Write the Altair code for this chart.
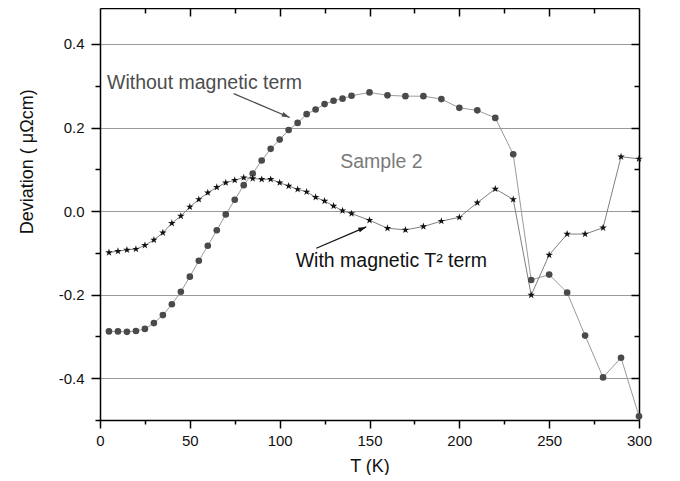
import altair as alt
import pandas as pd

# ---------------- data ----------------
T_circ = [5, 10, 15, 20, 25, 30, 35, 40, 45, 50, 55, 60, 65, 70, 75, 80, 85, 90, 95,
          100, 105, 110, 115, 120, 125, 130, 135, 140, 150, 160, 170, 180, 190, 200,
          210, 220, 230, 240, 250, 260, 270, 280, 290, 300]
dev_circ = [-0.288, -0.288, -0.289, -0.287, -0.282, -0.268, -0.249, -0.223, -0.193,
            -0.157, -0.119, -0.083, -0.046, -0.008, 0.027, 0.062, 0.090, 0.121, 0.149,
            0.171, 0.194, 0.211, 0.232, 0.243, 0.256, 0.264, 0.269, 0.276, 0.284,
            0.277, 0.275, 0.275, 0.268, 0.247, 0.241, 0.223, 0.136, -0.165, -0.152,
            -0.195, -0.298, -0.398, -0.351, -0.491]

T_star = [5, 10, 15, 20, 25, 30, 35, 40, 45, 50, 55, 60, 65, 70, 75, 80, 85, 90, 95,
          100, 105, 110, 115, 120, 125, 130, 135, 140, 150, 160, 170, 180, 190, 200,
          210, 220, 230, 240, 250, 260, 270, 280, 290, 300]
dev_star = [-0.099, -0.096, -0.093, -0.091, -0.082, -0.069, -0.052, -0.029, -0.012,
            0.010, 0.028, 0.044, 0.057, 0.068, 0.074, 0.080, 0.078, 0.076, 0.076,
            0.068, 0.060, 0.052, 0.046, 0.033, 0.024, 0.012, 0.001, -0.006, -0.022,
            -0.041, -0.045, -0.037, -0.024, -0.015, 0.020, 0.053, 0.028, -0.201,
            -0.105, -0.055, -0.055, -0.040, 0.130, 0.125]

x_major = [0, 50, 100, 150, 200, 250, 300]
x_minor = [25, 75, 125, 175, 225, 275]
x_top_major = [50, 100, 150, 200, 250]
y_major = [-0.4, -0.2, 0.0, 0.2, 0.4]
y_minor = [-0.5, -0.3, -0.1, 0.1, 0.3]
y_right_minor = [-0.3, -0.1, 0.1, 0.3]

label_text = ["Without magnetic term", "Sample 2", "With magnetic T\u00b2 term"]
label_T = [3.9, 133.7, 108.9]
label_dev = [0.2915, 0.103, -0.133]
label_color = ["#4d4d4d", "#7a7a7a", "#111111"]

y_title_text = ["Deviation ( \u03bc\u03a9cm)"]
y_title_T = [-37.2]
y_title_dev = [0.118]

arrow_T0 = [74.4, 120.4]
arrow_d0 = [0.281, -0.089]
arrow_T1 = [105.6, 148.2]
arrow_d1 = [0.224, -0.038]
arrow_angle = [23, 337]
arrow_color = ["#4d4d4d", "#111111"]

# ---------------- tables ----------------
circ = pd.DataFrame({"T": T_circ, "dev": dev_circ})
star = pd.DataFrame({"T": T_star, "dev": dev_star})
labels = pd.DataFrame({"T": label_T, "dev": label_dev, "text": label_text, "c": label_color})
ytitle = pd.DataFrame({"T": y_title_T, "dev": y_title_dev, "text": y_title_text})
arrows = pd.DataFrame({"T0": arrow_T0, "d0": arrow_d0, "T1": arrow_T1, "d1": arrow_d1,
                       "ang": arrow_angle, "c": arrow_color})

F = "Liberation Sans"
xs = alt.Scale(domain=[0, 300], nice=False, zero=False)
ys = alt.Scale(domain=[-0.5, 0.486], nice=False, zero=False)

tk = dict(tickColor="black", tickWidth=1.5)
frame = dict(domain=True, domainColor="black", domainWidth=1.5, ticks=False,
             labels=False, title=None, grid=False)

ax_bottom_major = alt.Axis(orient="bottom", values=x_major, tickSize=8,
                           domainColor="black", domainWidth=1.5, labelFont=F,
                           labelFontSize=15, labelColor="#111", labelPadding=5,
                           labelFlush=False, labelOverlap=False,
                           grid=False, title="T (K)", titleFont=F, titleFontSize=18,
                           titleFontWeight="normal", titleColor="#111",
                           titleBaseline="alphabetic", titleY=51, **tk)
ax_bottom_minor = alt.Axis(orient="bottom", values=x_minor, tickSize=4, domain=False,
                           labels=False, title=None, **tk)
ax_top_major = alt.Axis(orient="top", values=x_top_major, tickSize=8, offset=-8,
                        domain=False, labels=False, title=None, **tk)
ax_top_minor = alt.Axis(orient="top", values=x_minor, tickSize=5, offset=-5,
                        domain=False, labels=False, title=None, **tk)
ax_top_frame = alt.Axis(orient="top", **frame)

ax_left_major = alt.Axis(orient="left", values=y_major, tickSize=9,
                         domainColor="black", domainWidth=1.5, labelFont=F,
                         labelFontSize=15, labelColor="#111", labelPadding=7,
                         labelExpr="replace(format(datum.value, '.1f'), '\u2212', '-')",
                         grid=True, gridColor="#9a9a9a", gridWidth=1,
                         title=None, **tk)
ax_left_minor = alt.Axis(orient="left", values=y_minor, tickSize=5, domain=False,
                         labels=False, title=None, **tk)
ax_right_major = alt.Axis(orient="right", values=y_major, tickSize=8, offset=-8,
                          domain=False, labels=False, title=None, **tk)
ax_right_minor = alt.Axis(orient="right", values=y_right_minor, tickSize=5, offset=-5,
                          domain=False, labels=False, title=None, **tk)
ax_right_frame = alt.Axis(orient="right", **frame)

STAR = ("M0,-1L0.2245,-0.309L0.951,-0.309L0.363,0.118L0.588,0.809L0,0.382"
        "L-0.588,0.809L-0.363,0.118L-0.951,-0.309L-0.2245,-0.309Z")
HEAD = "M0,0L-2.3,-0.7L-2.3,0.7Z"

circ_line = alt.Chart(circ).mark_line(color="#9a9a9a", strokeWidth=1).encode(
    x=alt.X("T:Q", scale=xs, axis=ax_bottom_major),
    y=alt.Y("dev:Q", scale=ys, axis=ax_left_major),
)
star_line = alt.Chart(star).mark_line(color="#808080", strokeWidth=1).encode(
    x=alt.X("T:Q", scale=xs, axis=ax_bottom_minor),
    y=alt.Y("dev:Q", scale=ys, axis=ax_left_minor),
)
circ_pts = alt.Chart(circ).mark_point(shape="circle", filled=True, size=44,
                                      color="#4a4a4a", opacity=1).encode(
    x=alt.X("T:Q", scale=xs, axis=ax_top_major),
    y=alt.Y("dev:Q", scale=ys, axis=ax_right_major),
)
star_pts = alt.Chart(star).mark_point(shape=STAR, filled=True, size=62,
                                      color="#111111", opacity=1).encode(
    x=alt.X("T:Q", scale=xs, axis=ax_top_minor),
    y=alt.Y("dev:Q", scale=ys, axis=ax_right_minor),
)

arrow_lines = alt.Chart(arrows).mark_rule(strokeWidth=1.3).encode(
    x=alt.X("T0:Q", scale=xs, axis=None),
    x2="T1:Q",
    y=alt.Y("d0:Q", scale=ys, axis=None),
    y2="d1:Q",
    color=alt.Color("c:N", scale=None),
)
arrow_heads = alt.Chart(arrows).mark_point(shape=HEAD, filled=True, size=49,
                                           opacity=1).encode(
    x=alt.X("T1:Q", scale=xs, axis=None),
    y=alt.Y("d1:Q", scale=ys, axis=None),
    angle=alt.Angle("ang:Q", scale=None),
    color=alt.Color("c:N", scale=None),
)

texts = alt.Chart(labels).mark_text(align="left", baseline="alphabetic", font=F,
                                    fontSize=19.5).encode(
    x=alt.X("T:Q", scale=xs, axis=ax_top_frame),
    y=alt.Y("dev:Q", scale=ys, axis=ax_right_frame),
    text="text:N",
    color=alt.Color("c:N", scale=None),
)

y_title = alt.Chart(ytitle).mark_text(align="center", baseline="alphabetic", font=F,
                                      fontSize=18, angle=270, color="#111111").encode(
    x=alt.X("T:Q", scale=xs, axis=None),
    y=alt.Y("dev:Q", scale=ys, axis=None),
    text="text:N",
)

chart = alt.layer(
    circ_line, star_line, circ_pts, star_pts, arrow_lines, arrow_heads, texts, y_title
).resolve_axis(
    x="independent", y="independent"
).properties(
    width=539, height=412,
    autosize=alt.AutoSizeParams(type="none"),
    padding={"left": 92, "top": 0, "right": 25, "bottom": 55},
).configure_view(
    strokeWidth=0
)

chart.save("out.html", embed_options={"renderer": "svg", "actions": False})
